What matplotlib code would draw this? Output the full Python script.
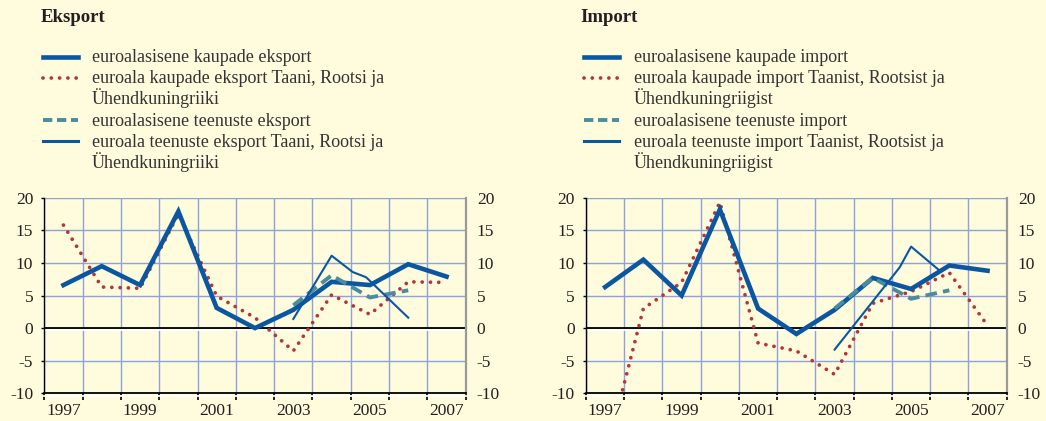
import matplotlib
matplotlib.use("Agg")
import matplotlib.pyplot as plt
import matplotlib.patheffects as pe
from matplotlib.lines import Line2D
import numpy as np

plt.rcParams['font.family'] = ['Liberation Serif', 'DejaVu Serif']

# ---------------- data ----------------
years = [1997, 1998, 1999, 2000, 2001, 2002, 2003, 2004, 2005, 2006, 2007]
year_labels = [1997, 1999, 2001, 2003, 2005, 2007]
y_ticks = [-10, -5, 0, 5, 10, 15, 20]

# Eksport
exp_goods_ea = [6.6, 9.5, 6.6, 17.9, 3.1, 0.0, 2.8, 7.1, 6.6, 9.8, 7.9]
exp_goods_dsu = [15.8, 6.3, 6.1, 17.5, 4.9, 1.6, -3.5, 5.1, 2.1, 7.1, 7.0]
exp_serv_ea_x = [2003, 2004, 2005, 2006]
exp_serv_ea = [3.5, 8.1, 4.7, 5.8]
exp_serv_dsu_x = [2003, 2004, 2004.55, 2004.9, 2006]
exp_serv_dsu = [1.4, 11.1, 8.6, 7.8, 1.6]

# Import
imp_goods_ea = [6.3, 10.5, 5.0, 18.2, 3.0, -0.9, 2.8, 7.7, 6.0, 9.6, 8.8]
imp_goods_dsu = [-20.0, 3.0, 7.0, 19.3, -2.3, -3.5, -7.1, 3.8, 5.6, 8.5, 0.4]
imp_serv_ea_x = [2003, 2004, 2005, 2006]
imp_serv_ea = [3.0, 7.7, 4.5, 5.8]
imp_serv_dsu_x = [2003, 2004.7, 2005, 2005.75]
imp_serv_dsu = [-3.3, 9.3, 12.5, 8.8]

titles = ["Eksport", "Import"]
labels_exp = ["euroalasisene kaupade eksport",
              "euroala kaupade eksport Taani, Rootsi ja",
              "Ühendkuningriiki",
              "euroalasisene teenuste eksport",
              "euroala teenuste eksport Taani, Rootsi ja",
              "Ühendkuningriiki"]
labels_imp = ["euroalasisene kaupade import",
              "euroala kaupade import Taanist, Rootsist ja",
              "Ühendkuningriigist",
              "euroalasisene teenuste import",
              "euroala teenuste import Taanist, Rootsist ja",
              "Ühendkuningriigist"]

# ---------------- style ----------------
BG = '#FFFBDD'
BLUE = '#0B56A0'
RED = '#B3363A'
TEAL = '#4A8C9D'
GRID = '#8DA2DA'
TXT = '#231F20'
W, H = 1046, 421

fig = plt.figure(figsize=(10.46, 4.21), dpi=100, facecolor=BG)

ax_pos = [(44.3 / W, 1 - 393.3 / H, 421.4 / W, 195.6 / H),
          (586.0 / W, 1 - 393.3 / H, 420.7 / W, 195.6 / H)]

datasets = [
    (exp_goods_ea, exp_goods_dsu, exp_serv_ea_x, exp_serv_ea, exp_serv_dsu_x, exp_serv_dsu, labels_exp),
    (imp_goods_ea, imp_goods_dsu, imp_serv_ea_x, imp_serv_ea, imp_serv_dsu_x, imp_serv_dsu, labels_imp),
]

title_x = [41, 580]
handle_x = [43, 584]
text_x = [92, 634]

shadow = [pe.SimpleLineShadow(offset=(0, -1.6), shadow_color='white', alpha=1.0), pe.Normal()]

RED_LS = (0, (0.01, 2.2))
TEAL_LS = (0, (3.0, 1.6))

for i, (g_ea, g_dsu, s_ea_x, s_ea, s_dsu_x, s_dsu, labs) in enumerate(datasets):
    ax = fig.add_axes(ax_pos[i])
    ax.set_facecolor(BG)
    ax.set_xlim(1996.5, 2007.5)
    ax.set_ylim(-10, 20)

    ax.set_xticks(np.arange(1996.5, 2008, 1.0))
    ax.set_xticklabels([])
    ax.set_xticks(year_labels, minor=True)
    ax.set_xticklabels([str(y) for y in year_labels], minor=True)
    ax.set_yticks(y_ticks)
    ax.set_yticklabels([str(v) for v in y_ticks])
    ax.grid(True, which='major', color=GRID, lw=1.0, zorder=0)
    ax.set_axisbelow(True)

    ax.tick_params(axis='x', which='major', direction='out', length=5, width=1.2, color='black')
    ax.tick_params(axis='x', which='minor', length=0, pad=7, labelsize=12.5, labelcolor=TXT)
    ax.tick_params(axis='y', which='major', direction='out', length=2, width=1,
                   labelsize=12.5, labelcolor=TXT, labelleft=True, labelright=True,
                   left=True, right=False, pad=6)

    ax.spines['top'].set_visible(False)
    ax.spines['left'].set_color('black')
    ax.spines['left'].set_linewidth(1.0)
    ax.spines['right'].set_color('#9A9A9A')
    ax.spines['right'].set_linewidth(1.6)
    ax.spines['bottom'].set_color('black')
    ax.spines['bottom'].set_linewidth(1.3)
    ax.spines['bottom'].set_path_effects(shadow)

    ax.axhline(0, color='black', lw=1.3, zorder=1.5, path_effects=shadow)

    ax.plot(years, g_dsu, color=RED, lw=2.7, linestyle=RED_LS, dash_capstyle='round', zorder=2)
    ax.plot(years, g_ea, color=BLUE, lw=3.3, solid_joinstyle='miter', zorder=3)
    ax.plot(s_ea_x, s_ea, color=TEAL, lw=2.8, linestyle=TEAL_LS, zorder=4)
    ax.plot(s_dsu_x, s_dsu, color=BLUE, lw=1.5, zorder=5)

    fig.text(title_x[i] / W, 1 - 17 / H, titles[i], fontsize=13.5, fontweight='bold',
             color=TXT, va='center', ha='left')

    # legend (handles aligned to the first line of each entry)
    handle_styles = [dict(color=BLUE, lw=3.3),
                     dict(color=RED, lw=2.7, linestyle=(0, (0.01, 2.2)), dash_capstyle='round'),
                     None,
                     dict(color=TEAL, lw=2.8, linestyle=(0, (2.4, 1.2))),
                     dict(color=BLUE, lw=2.2),
                     None]
    for k, (lab, st) in enumerate(zip(labs, handle_styles)):
        yc = 56.7 + 21.1 * k
        if st is not None:
            fig.add_artist(Line2D([handle_x[i] / W, (handle_x[i] + 35) / W],
                                  [1 - yc / H, 1 - yc / H], transform=fig.transFigure, **st))
        fig.text(text_x[i] / W, 1 - (yc + 5.5) / H, lab, fontsize=13, color='#333333',
                 va='baseline', ha='left')

fig.savefig('out.png', dpi=100, facecolor=BG)
